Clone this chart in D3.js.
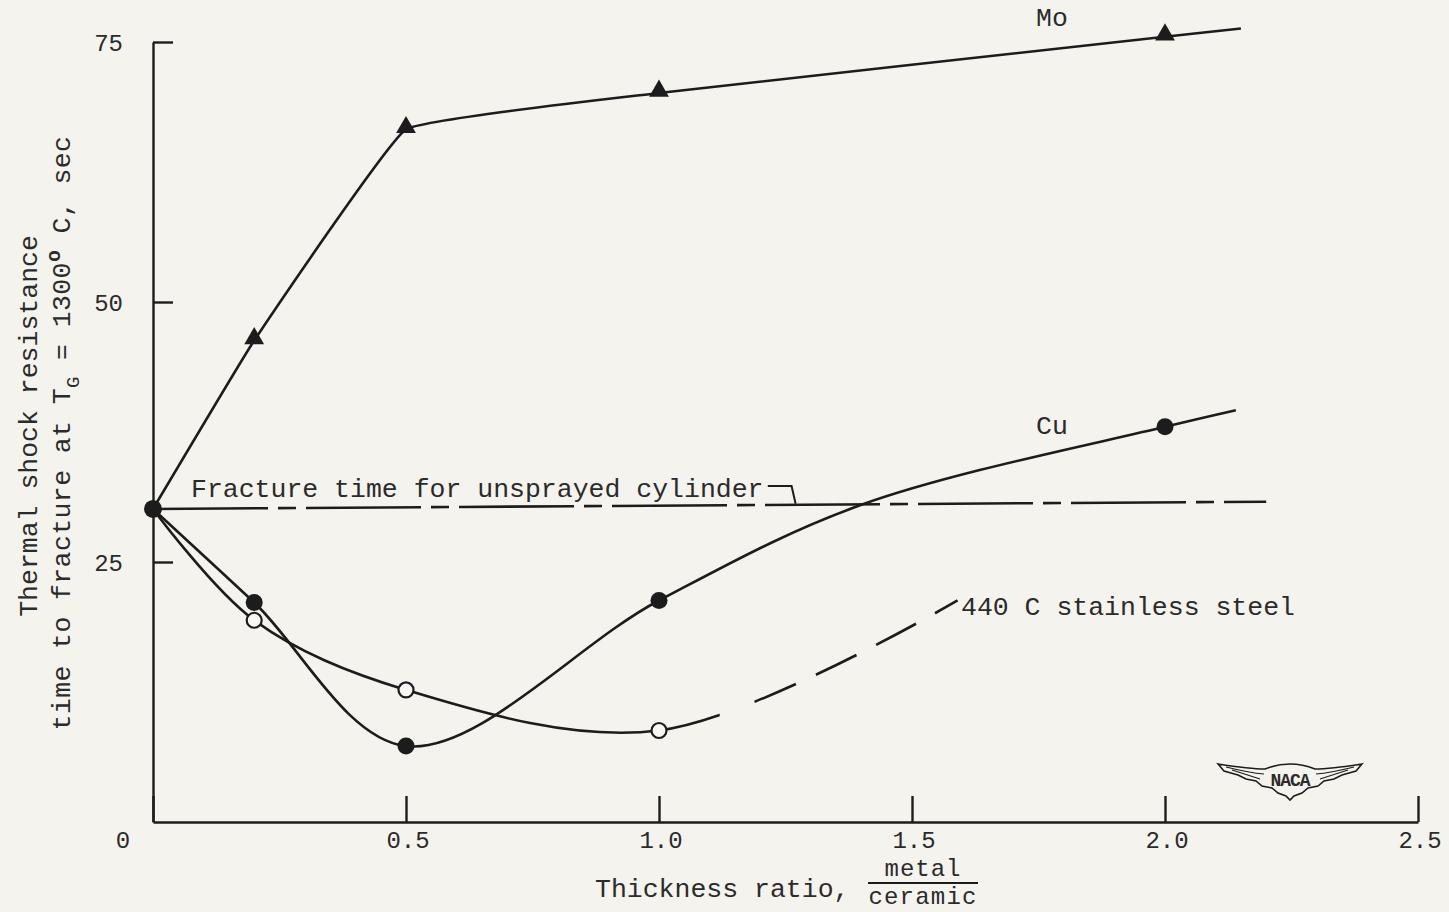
<!DOCTYPE html>
<html>
<head>
<meta charset="utf-8">
<script src="https://cdn.jsdelivr.net/npm/d3@7"></script>
<style>
  body { margin: 0; background: #f5f3ee; }
  svg { display: block; }
  text { font-family: "Liberation Mono", "DejaVu Sans Mono", monospace; fill: #2b2b2b; }
</style>
</head>
<body>
<div id="chart-area"></div>
<script>
// tick values / labels
let xTicks = [0, 0.5, 1.0, 1.5, 2.0, 2.5];
let xTickLabels = ["0", "0.5", "1.0", "1.5", "2.0", "2.5"];
let yTicks = [25, 50, 75];
let yTickLabels = ["25", "50", "75"];

// Mo (triangles)
let moX = [0, 0.2, 0.5, 1.0, 2.0, 2.15];
let moY = [30.1, 46.3, 66.6, 70.1, 75.5, 76.3];
let moMark = [0, 1, 1, 1, 1, 0];

// Cu (filled circles)
let cuX = [0, 0.2, 0.5, 1.0, 1.4, 2.0, 2.14];
let cuY = [30.1, 21.1, 7.3, 21.3, 30.5, 38.0, 39.6];
let cuMark = [0, 1, 1, 1, 0, 1, 0];

// 440 C stainless steel (open circles), dashed beyond ~1.1
let stX = [0, 0.2, 0.5, 1.0, 1.59];
let stY = [30.1, 19.4, 12.7, 8.8, 21.3];
let stMark = [0, 1, 1, 1, 0];
let stSolidEnd = 1.12;

// unsprayed cylinder fracture time
let unX = [0, 2.2];
let unY = [30.1, 30.8];

let w = 1449;
let h = 912;

let svg = d3.select("#chart-area")
    .append("svg")
    .attr("width", w)
    .attr("height", h);

svg.append("rect").attr("width", w).attr("height", h).attr("fill", "#f5f3ee");

let xScale = d3.scaleLinear().domain([0, 2.5]).range([153, 1418]);
let yScale = d3.scaleLinear().domain([0, 75]).range([822, 42]);

let ink = "#1c1c1c";

// axes
let xAxis = d3.axisTop(xScale).tickValues(xTicks).tickSize(26).tickSizeOuter(0).tickFormat("");
svg.append("g")
    .attr("transform", "translate(0," + yScale(0) + ")")
    .call(xAxis);

let yAxis = d3.axisRight(yScale).tickValues(yTicks).tickSize(20).tickSizeOuter(0).tickFormat("");
svg.append("g")
    .attr("transform", "translate(" + xScale(0) + ",0)")
    .call(yAxis);

svg.selectAll(".domain, .tick line")
    .attr("stroke", ink)
    .attr("stroke-width", 2.4);

// tick labels
svg.selectAll(".xlab")
    .data(xTicks)
    .enter()
    .append("text")
    .attr("x", (d, i) => xScale(d) + (i === 0 ? -30 : 2))
    .attr("y", 848)
    .attr("text-anchor", "middle")
    .attr("font-size", 24)
    .text((d, i) => xTickLabels[i]);

svg.selectAll(".ylab")
    .data(yTicks)
    .enter()
    .append("text")
    .attr("x", 123)
    .attr("y", (d) => yScale(d) + 9)
    .attr("text-anchor", "end")
    .attr("font-family", "DejaVu Sans")
    .attr("font-weight", 300)
    .attr("font-size", 24)
    .text((d, i) => yTickLabels[i]);

// axis titles
svg.append("text")
    .attr("x", 595)
    .attr("y", 897)
    .attr("font-size", 26.5)
    .text("Thickness ratio,");
svg.append("text")
    .attr("x", 923)
    .attr("y", 876)
    .attr("text-anchor", "middle")
    .attr("font-size", 24)
    .attr("letter-spacing", 1)
    .text("metal");
svg.append("line")
    .attr("x1", 868).attr("x2", 978)
    .attr("y1", 883).attr("y2", 883)
    .attr("stroke", ink).attr("stroke-width", 2);
svg.append("text")
    .attr("x", 923)
    .attr("y", 904)
    .attr("text-anchor", "middle")
    .attr("font-size", 24)
    .attr("letter-spacing", 1.2)
    .text("ceramic");

svg.append("text")
    .attr("transform", "rotate(-90)")
    .attr("x", -426)
    .attr("y", 37)
    .attr("text-anchor", "middle")
    .attr("font-size", 26.5)
    .text("Thermal shock resistance");

let t2 = svg.append("text")
    .attr("transform", "rotate(-90)")
    .attr("x", -433)
    .attr("y", 70)
    .attr("text-anchor", "middle")
    .attr("font-size", 26.5)
    .attr("letter-spacing", 0.4);
t2.append("tspan").text("time to fracture at T");
t2.append("tspan").attr("dy", 9).attr("font-size", 19).text("G");
t2.append("tspan").attr("dy", -9).text(" = 1300");
t2.append("tspan").attr("dy", -10).attr("font-size", 20).attr("font-weight", "bold").text("o");
t2.append("tspan").attr("dy", 10).text(" C, sec");

// lines
let line = d3.line()
    .x((d) => xScale(d[0]))
    .y((d) => yScale(d[1]))
    .curve(d3.curveCatmullRom.alpha(0.5));

let moLine = d3.line()
    .x((d) => xScale(d[0]))
    .y((d) => yScale(d[1]))
    .curve(d3.curveCardinal.tension(0.75));

let zip = (xs, ys) => xs.map((x, i) => [x, ys[i]]);

let moData = zip(moX, moY);
let cuData = zip(cuX, cuY);
let stData = zip(stX, stY);
let unData = zip(unX, unY);

svg.append("path")
    .attr("d", d3.line().x((d) => xScale(d[0])).y((d) => yScale(d[1]))(unData))
    .attr("fill", "none")
    .attr("stroke", ink)
    .attr("stroke-width", 2.6)
    .attr("stroke-dasharray", "115,10,18,10");

svg.append("path")
    .attr("d", moLine(moData))
    .attr("fill", "none")
    .attr("stroke", ink)
    .attr("stroke-width", 2.6);

svg.append("path")
    .attr("d", line(cuData))
    .attr("fill", "none")
    .attr("stroke", ink)
    .attr("stroke-width", 2.6);

let defs = svg.append("defs");
defs.append("clipPath").attr("id", "clipSolid")
    .append("rect")
    .attr("x", 0).attr("y", 0)
    .attr("width", xScale(stSolidEnd)).attr("height", h);
defs.append("clipPath").attr("id", "clipDash")
    .append("rect")
    .attr("x", xScale(stSolidEnd) + 19).attr("y", 0)
    .attr("width", w).attr("height", h);

svg.append("path")
    .attr("d", line(stData))
    .attr("clip-path", "url(#clipSolid)")
    .attr("fill", "none")
    .attr("stroke", ink)
    .attr("stroke-width", 2.6);

// dashed tail drawn from its far end so a dash meets the label
svg.append("path")
    .attr("d", line(stData.slice().reverse()))
    .attr("clip-path", "url(#clipDash)")
    .attr("fill", "none")
    .attr("stroke", ink)
    .attr("stroke-width", 2.6)
    .attr("stroke-dasharray", "26,22,45,22,45,22,45,22,45,22");

// markers
svg.selectAll(".mo")
    .data(moData.filter((d, i) => moMark[i]))
    .enter()
    .append("path")
    .attr("d", d3.symbol().type(d3.symbolTriangle).size(170))
    .attr("transform", (d) => "translate(" + xScale(d[0]) + "," + (yScale(d[1]) - 2) + ")")
    .attr("fill", ink);

svg.selectAll(".cu")
    .data(cuData.filter((d, i) => cuMark[i]))
    .enter()
    .append("circle")
    .attr("cx", (d) => xScale(d[0]))
    .attr("cy", (d) => yScale(d[1]))
    .attr("r", 8.5)
    .attr("fill", ink);

svg.selectAll(".st")
    .data(stData.filter((d, i) => stMark[i]))
    .enter()
    .append("circle")
    .attr("cx", (d) => xScale(d[0]))
    .attr("cy", (d) => yScale(d[1]))
    .attr("r", 7.5)
    .attr("fill", "#f8f7f3")
    .attr("stroke", ink)
    .attr("stroke-width", 2.2);

// common starting point
svg.append("circle")
    .attr("cx", xScale(moX[0]))
    .attr("cy", yScale(moY[0]))
    .attr("r", 9)
    .attr("fill", ink);

// curve labels
svg.append("text").attr("x", 1036).attr("y", 26).attr("font-size", 26.5).text("Mo");
svg.append("text").attr("x", 1036).attr("y", 434).attr("font-size", 26.5).text("Cu");
svg.append("text").attr("x", 961).attr("y", 615).attr("font-size", 26.5).text("440 C stainless steel");
svg.append("text").attr("x", 191).attr("y", 497).attr("font-size", 26.5).text("Fracture time for unsprayed cylinder");

// leader from label to unsprayed line
svg.append("path")
    .attr("d", "M" + xScale(1.215) + "," + yScale(32.3) + "H" + xScale(1.262) + "L" + xScale(1.27) + "," + yScale(30.6))
    .attr("fill", "none")
    .attr("stroke", ink)
    .attr("stroke-width", 2);

// NACA wings emblem
let logo = svg.append("g").attr("transform", "translate(1290,779)");
logo.append("path")
    .attr("d", "M-72,-15 Q-40,-10 -25,-10 Q0,-20 25,-10 Q40,-10 72,-15 L66,-8 L52,-4 L44,0 L34,2 L28,7 L18,9 L12,14 L4,17 L0,21 L-4,17 L-12,14 L-18,9 L-28,7 L-34,2 L-44,0 L-52,-4 L-66,-8 Z")
    .attr("fill", "none")
    .attr("stroke", ink)
    .attr("stroke-width", 1.6);
logo.append("path")
    .attr("d", "M-64,-12 Q-40,-6 -26,-5 M64,-12 Q40,-6 26,-5 M-58,-9 L-30,0 M58,-9 L30,0")
    .attr("fill", "none")
    .attr("stroke", ink)
    .attr("stroke-width", 1.2);
logo.append("text")
    .attr("x", 0)
    .attr("y", 7)
    .attr("text-anchor", "middle")
    .attr("font-family", "DejaVu Sans")
    .attr("font-weight", "bold")
    .attr("font-size", 18)
    .attr("letter-spacing", -1)
    .text("NACA");
</script>
</body>
</html>
